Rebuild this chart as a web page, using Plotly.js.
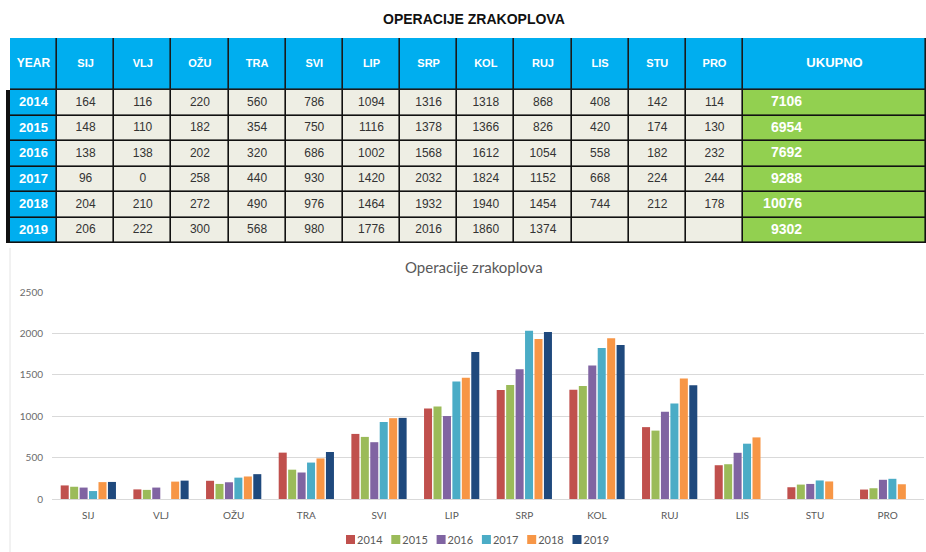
<!DOCTYPE html>
<html><head><meta charset="utf-8">
<script src="https://cdn.plot.ly/plotly-3.0.1.min.js"></script>
<style>html,body{margin:0;padding:0;background:#fff}#chart{width:926px;height:552px}</style>
</head><body><div id="chart"></div>
<script>
// ---- data ----
const months = ['SIJ','VLJ','OŽU','TRA','SVI','LIP','SRP','KOL','RUJ','LIS','STU','PRO'];
const years = ['2014','2015','2016','2017','2018','2019'];
const y2014 = [164,116,220,560,786,1094,1316,1318,868,408,142,114];
const y2015 = [148,110,182,354,750,1116,1378,1366,826,420,174,130];
const y2016 = [138,138,202,320,686,1002,1568,1612,1054,558,182,232];
const y2017 = [96,0,258,440,930,1420,2032,1824,1152,668,224,244];
const y2018 = [204,210,272,490,976,1464,1932,1940,1454,744,212,178];
const y2019 = [206,222,300,568,980,1776,2016,1860,1374,null,null,null];
const totals = [7106,6954,7692,9288,10076,9302];
const tableTitle = 'OPERACIJE ZRAKOPLOVA';
const chartTitle = 'Operacije zrakoplova';
const totalHeader = 'UKUPNO';
const yearHeader = 'YEAR';
const seriesColors = ['#C0504D','#9BBB59','#8064A2','#4BACC6','#F79646','#1F497D'];

const series = [y2014,y2015,y2016,y2017,y2018,y2019];
const W = 926, H = 552;

// ---- table geometry (in px-like units of the table axes) ----
const colW = [47, ...months.map(()=>57.2), 183];
const headerH = 52, rowH = 25.5;
const xEdges = [0]; colW.forEach(w => xEdges.push(xEdges[xEdges.length-1] + w));
const yEdges = [0, headerH]; years.forEach(() => yEdges.push(yEdges[yEdges.length-1] + rowH));
const tableW = xEdges[xEdges.length-1], tableH = yEdges[yEdges.length-1];
const nCols = colW.length;

// colour codes: 0 blue, 1 cream, 2 green
const z = [];
z.push(colW.map(() => 0));
years.forEach(() => z.push(colW.map((w,i) => i===0 ? 0 : (i===nCols-1 ? 2 : 1))));

const cellBg = {
  type: 'heatmap', xaxis: 'x2', yaxis: 'y2',
  x: xEdges, y: yEdges, z: z, zmin: 0, zmax: 2,
  colorscale: [[0,'#00AEEF'],[0.5,'#EEEEE4'],[1,'#92D050']],
  showscale: false, xgap: 1.6, ygap: 1.6, hoverinfo: 'skip'
};

// text points
const tx = [], ty = [], tt = [], tc = [], ts = [], tp = [];
const headers = [yearHeader, ...months, totalHeader];
headers.forEach((h,i) => {
  tx.push((xEdges[i]+xEdges[i+1])/2); ty.push(headerH/2);
  tt.push('<b>'+h+'</b>'); tc.push('#FFFFFF');
  ts.push(i===0 ? 12 : (i===nCols-1 ? 13 : 11)); tp.push('middle center');
});
series.forEach((s,r) => {
  const yc = (yEdges[r+1]+yEdges[r+2])/2;
  tx.push((xEdges[0]+xEdges[1])/2); ty.push(yc); tt.push('<b>'+years[r]+'</b>');
  tc.push('#FFFFFF'); ts.push(13); tp.push('middle center');
  s.forEach((v,mi) => {
    tx.push((xEdges[mi+1]+xEdges[mi+2])/2); ty.push(yc);
    tt.push(v===null ? '' : String(v)); tc.push('#333333'); ts.push(12); tp.push('middle center');
  });
  tx.push(xEdges[nCols-1] + 59); ty.push(yc); tt.push('<b>'+totals[r]+'</b>');
  tc.push('#FFFFFF'); ts.push(14); tp.push('middle left');
});
const cellText = {
  type: 'scatter', mode: 'text', xaxis: 'x2', yaxis: 'y2',
  x: tx, y: ty, text: tt, textposition: tp,
  textfont: {family: 'Liberation Sans, Arial, sans-serif', color: tc, size: ts},
  showlegend: false, hoverinfo: 'skip'
};

// ---- bars ----
const bars = series.map((s,i)=>({
  type: 'bar', name: years[i], x: months, y: s,
  marker: {color: seriesColors[i]},
  xaxis: 'x', yaxis: 'y', hoverinfo: 'skip'
}));

const layout = {
  width: W, height: H,
  margin: {l:0, r:0, t:0, b:0},
  paper_bgcolor: '#FFFFFF', plot_bgcolor: 'rgba(0,0,0,0)',
  showlegend: true,
  barmode: 'group', bargap: 0.22, bargroupgap: 0.15,
  font: {family: 'Lato, sans-serif', color: '#595959'},
  xaxis: {
    domain: [52/W, 924/W],
    showgrid: false, showline: true, linecolor: '#D9D9D9', linewidth: 1,
    tickfont: {size: 10, color: '#595959', family: 'Lato, sans-serif'},
    ticks: '', ticklabelstandoff: 7, fixedrange: true
  },
  yaxis: {
    domain: [1-499/H, 1-292/H],
    range: [0, 2500], dtick: 500, tick0: 0,
    showgrid: true, gridcolor: '#D9D9D9', gridwidth: 1,
    zeroline: true, zerolinecolor: '#D9D9D9', zerolinewidth: 1,
    showline: false,
    tickfont: {size: 10, color: '#6b6b6b', family: 'Lato, sans-serif'},
    ticks: '', ticklabelstandoff: 8, fixedrange: true
  },
  xaxis2: {
    domain: [6/W, 1], range: [-4, tableW], visible: false, fixedrange: true
  },
  yaxis2: {
    domain: [1-(38+tableH)/H, 1-38/H], range: [tableH, 0], visible: false, fixedrange: true
  },
  legend: {
    orientation: 'h', x: 346/W, xanchor: 'left', y: 0, yanchor: 'bottom',
    font: {size: 11, color: '#595959', family: 'Lato, sans-serif'},
    itemwidth: 30, tracegroupgap: 0, bgcolor: 'rgba(0,0,0,0)', borderwidth: 0,
    entrywidth: 1, entrywidthmode: 'pixels'
  },
  annotations: [
    {text: '<b>'+tableTitle+'</b>', x: 474/W, y: 1-19/H, xref: 'paper', yref: 'paper',
     xanchor: 'center', yanchor: 'middle', showarrow: false,
     font: {family: 'Liberation Sans, Arial, sans-serif', size: 14, color: '#111111'}},
    {text: chartTitle, x: 474/W, y: 1-267/H, xref: 'paper', yref: 'paper',
     xanchor: 'center', yanchor: 'middle', showarrow: false,
     font: {family: 'Lato, sans-serif', size: 15, color: '#595959'}}
  ],
  shapes: [
    {type: 'rect', xref: 'x2', yref: 'y2', layer: 'below', x0: 0, x1: tableW, y0: 0, y1: headerH,
     fillcolor: '#1a1a1a', line: {width: 0}},
    {type: 'rect', xref: 'x2', yref: 'y2', layer: 'below', x0: -4, x1: tableW, y0: headerH, y1: tableH,
     fillcolor: '#111111', line: {width: 0}},
    {type: 'line', xref: 'paper', yref: 'paper', x0: 10/W, x1: 10/W, y0: 0, y1: 1-248/H,
     line: {color: '#E4E4E4', width: 1}}
  ]
};

Plotly.newPlot('chart', [cellBg, cellText, ...bars], layout, {displayModeBar: false, staticPlot: true})
.then(gd => {
  // compact legend entries (Excel style: small square right next to the label)
  const items = gd.querySelectorAll('.legend .traces');
  let x0 = null, yy = 0;
  items.forEach((tr, i) => {
    const m = /translate\(\s*([-\d.]+)[ ,]+([-\d.]+)/.exec(tr.getAttribute('transform') || '');
    if (m) {
      if (x0 === null) { x0 = parseFloat(m[1]); yy = parseFloat(m[2]) + 2; }
      tr.setAttribute('transform', 'translate(' + (x0 + i*45.3) + ',' + yy + ')');
    }
    tr.querySelectorAll('.legendpoints path').forEach(p => p.setAttribute('transform', 'translate(4.5,0) scale(0.75)'));
    const t = tr.querySelector('.legendtext');
    if (t) t.setAttribute('x', 11);
  });
});
</script></body></html>
